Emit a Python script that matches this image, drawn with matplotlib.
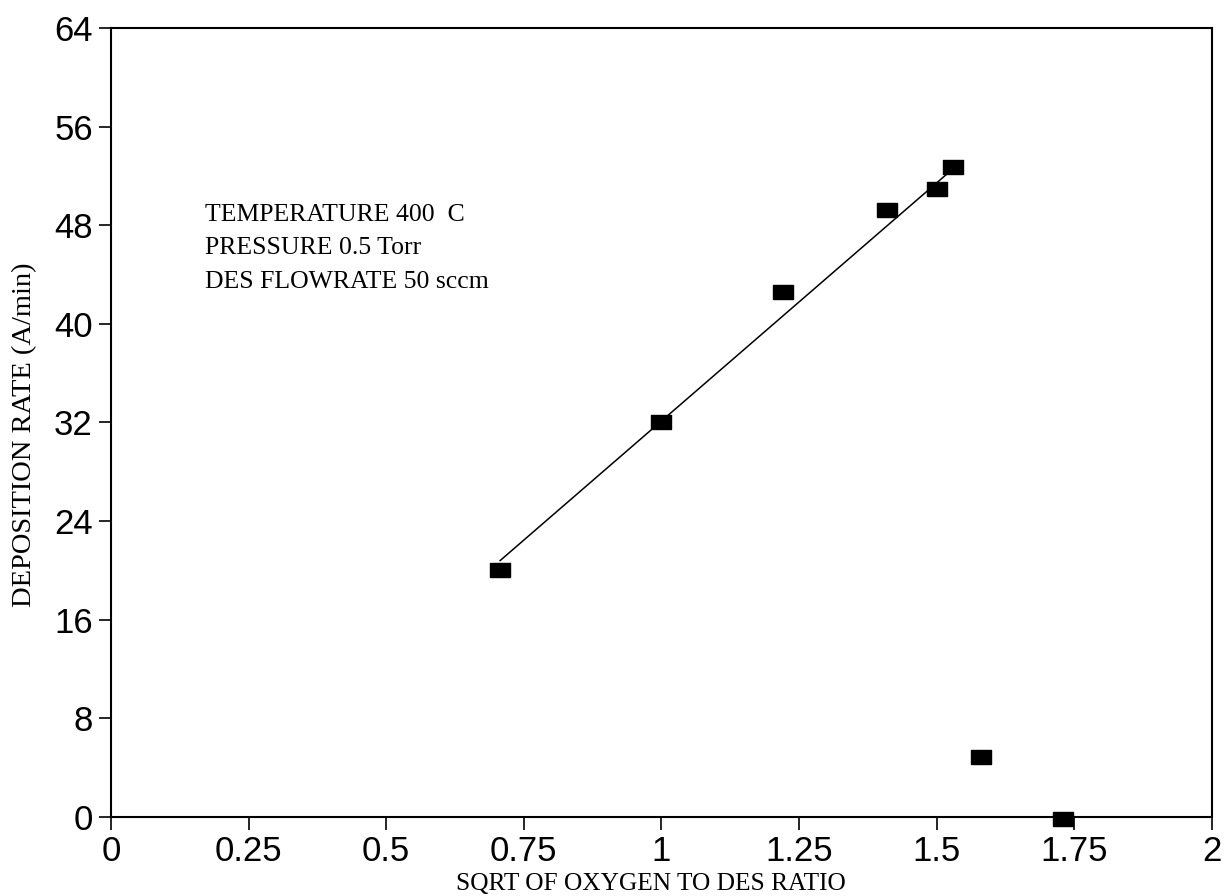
import matplotlib
matplotlib.use('Agg')
import matplotlib.pyplot as plt
import numpy as np

# measured points
sqrt_ratio = [0.707, 1.0, 1.22, 1.41, 1.50, 1.53, 1.58, 1.73]
dep_rate = [20.0, 32.0, 42.6, 49.2, 50.9, 52.7, 4.9, -0.2]

# fitted line end points
fit_x = [0.707, 1.53]
fit_y = [20.8, 52.6]

xticks = [0, 0.25, 0.5, 0.75, 1, 1.25, 1.5, 1.75, 2]
xtick_labels = ['0', '0.25', '0.5', '0.75', '1', '1.25', '1.5', '1.75', '2']
yticks = [0, 8, 16, 24, 32, 40, 48, 56, 64]

notes = ['TEMPERATURE 400  C', 'PRESSURE 0.5 Torr', 'DES FLOWRATE 50 sccm']

fig = plt.figure(figsize=(12.3, 8.96), dpi=100)
ax = fig.add_axes([0.0902, 0.0882, 0.8952, 0.8806])

# wide rectangle marker (about 20 x 14 px)
rect = [(-1, -0.7), (1, -0.7), (1, 0.7), (-1, 0.7), (-1, -0.7)]

ax.plot(fit_x, fit_y, color='black', lw=1.1)
ax.plot(sqrt_ratio, dep_rate, linestyle='none', marker=rect, markersize=14.4,
        color='black', clip_on=False)

ax.set_xlim(0, 2)
ax.set_ylim(0, 64)
ax.set_xticks(xticks)
ax.set_xticklabels(xtick_labels)
ax.set_yticks(yticks)
ax.tick_params(direction='out', length=9, width=1.2, labelsize=25, pad=4,
               labelfontfamily='Liberation Sans')
for s in ax.spines.values():
    s.set_linewidth(1.5)

for i, t in enumerate(notes):
    ax.text(0.0854, 0.763 - i * 0.0425, t, transform=ax.transAxes,
            family='Liberation Serif', fontsize=18.5, va='center')

fig.text(0.529, 0.0134, 'SQRT OF OXYGEN TO DES RATIO', family='Liberation Serif',
         fontsize=18.3, ha='center', va='center')
fig.text(0.02, 0.5145, 'DEPOSITION RATE (A/min)', family='Liberation Serif',
         fontsize=20.5, ha='center', va='center', rotation=90)

fig.savefig('out.png', dpi=100)
